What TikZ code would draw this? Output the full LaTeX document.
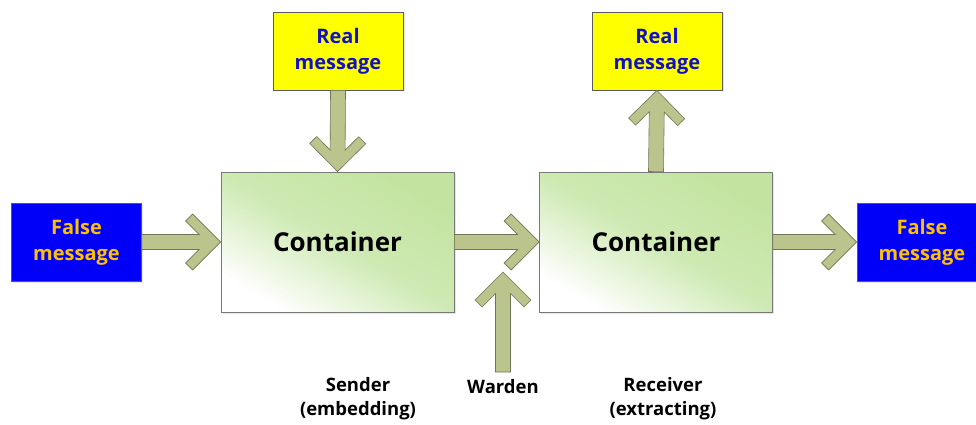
\documentclass[tikz,border=0pt]{standalone}
\usepackage{fontspec}
\setmainfont{Open Sans}
\usetikzlibrary{calc,shadows}
\definecolor{arrowfill}{RGB}{186,196,140}
\definecolor{arrowline}{RGB}{110,118,82}
\definecolor{boxborder}{RGB}{90,90,90}
\definecolor{falseblue}{RGB}{0,0,250}
\definecolor{falsetext}{RGB}{255,192,0}
\definecolor{realyellow}{RGB}{255,255,0}
\definecolor{realtext}{RGB}{16,16,200}
\definecolor{contgreen}{RGB}{194,228,160}
\definecolor{contborder}{RGB}{120,120,120}
\tikzset{
  msgbox/.style={draw=boxborder, line width=0.8pt, minimum width=130pt, minimum height=78pt,
    inner sep=0pt, align=center, font=\fontsize{20}{26}\selectfont\bfseries,
    drop shadow={shadow xshift=1.5pt, shadow yshift=-1.5pt, opacity=0.2, fill=gray}},
  falsebox/.style={msgbox, fill=falseblue, text=falsetext},
  realbox/.style={msgbox, fill=realyellow, text=realtext},
  container/.style={draw=contborder, line width=0.8pt, minimum width=233pt, minimum height=140pt,
    inner sep=0pt, top color=contgreen, bottom color=white, middle color=contgreen!80!white, shading angle=-30,
    font=\fontsize{26}{30}\selectfont\bfseries,
    drop shadow={shadow xshift=1.5pt, shadow yshift=-1.5pt, opacity=0.2, fill=gray}},
  barrow/.style={draw=arrowline, fill=arrowfill, line width=0.6pt, line join=miter},
  caption/.style={align=center, font=\fontsize{18.5}{24}\selectfont\bfseries, inner sep=0pt}
}
\newcommand\blockarrow[2]{%
  \path[barrow] let \p1=(#1), \p2=(#2), \n1={atan2(\y2-\y1,\x2-\x1)}, \n2={veclen(\x2-\x1,\y2-\y1)} in
    [shift={(\p2)}, rotate=\n1]
    (0,0) -- (-28,-28) -- (-35,-21) -- (-21.5,-7.5) -- (-\n2,-7.5) -- (-\n2,7.5)
    -- (-21.5,7.5) -- (-35,21) -- (-28,28) -- cycle;}
\begin{document}
\begin{tikzpicture}[x=1pt,y=-1pt]
\useasboundingbox (0,0) rectangle (976,425);
\node[falsebox] (f1) at (76.5,242) {False\\message};
\node[container] (c1) at (337.5,242) {Container};
\node[container] (c2) at (656,242) {Container};
\node[realbox] (r1) at (338,51) {Real\\message};
\node[realbox] (r2) at (657,51) {Real\\message};
\node[falsebox] (f2) at (922,242) {False\\message};
\coordinate (w) at (503,372);
\coordinate (wt) at (503,272);
\blockarrow{f1.east}{c1.west}
\blockarrow{r1.south}{c1.north}
\blockarrow{c1.east}{c2.west}
\blockarrow{w}{wt}
\blockarrow{c2.north}{r2.south}
\blockarrow{c2.east}{f2.west}
\node[caption] (ls) at (358,399) {Sender\\(embedding)};
\node[caption] (lw) at (503,387) {Warden};
\node[caption] (lr) at (663,399) {Receiver\\(extracting)};
\end{tikzpicture}
\end{document}
